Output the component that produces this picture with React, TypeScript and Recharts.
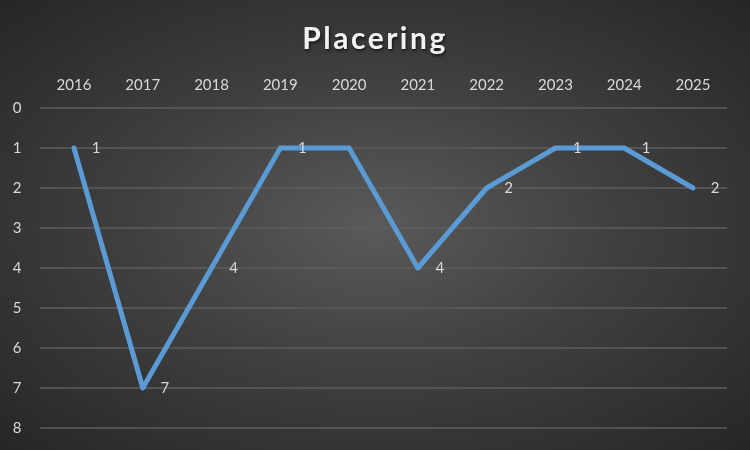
import React from "react";
import { LineChart, Line, XAxis, YAxis, CartesianGrid, LabelList } from "recharts";

const years = ["2016", "2017", "2018", "2019", "2020", "2021", "2022", "2023", "2024", "2025"];
const placering = [1, 7, 4, 1, 1, 4, 2, 1, 1, 2];
// data labels as shown (the 2020 label is not displayed in the reference)
const shownLabels = [1, 7, 4, 1, null, 4, 2, 1, 1, 2];
const yTicks = [0, 1, 2, 3, 4, 5, 6, 7, 8];

const data = years.map((y, i) => ({ year: y, value: placering[i], label: shownLabels[i] }));

const FONT = "Lato, 'Open Sans', sans-serif";
const TXT = "#d9d9d9";

const XTick = (props: any) => {
  const { x, y, payload } = props;
  return (
    <text x={x} y={y} dy={-10} textAnchor="middle" fill={TXT} fontSize={15} fontFamily={FONT}>
      {payload.value}
    </text>
  );
};

const YTick = (props: any) => {
  const { y, payload } = props;
  return (
    <text x={17} y={y} dy={5} textAnchor="middle" fill={TXT} fontSize={15} fontFamily={FONT}>
      {payload.value}
    </text>
  );
};

const DataLabel = (props: any) => {
  const { x, y, value } = props;
  if (value === null || value === undefined) return null;
  return (
    <text x={x + 22} y={y} dy={5} textAnchor="middle" fill={TXT} fontSize={15} fontFamily={FONT}>
      {value}
    </text>
  );
};

export default function App() {
  return (
    <div
      style={{
        position: "fixed",
        left: 0,
        top: 0,
        width: 750,
        height: 450,
        background: "radial-gradient(ellipse at center, #5a5a5a 0%, #404040 45%, #262626 100%)",
        overflow: "hidden",
      }}
    >
      <div
        style={{
          position: "absolute",
          left: 0,
          top: 19,
          width: 750,
          textAlign: "center",
          color: "#f2f2f2",
          fontFamily: FONT,
          fontWeight: 700,
          fontSize: 30,
          letterSpacing: 2.5,
          lineHeight: "36px",
          textShadow: "1px 2px 3px rgba(0,0,0,0.6)",
        }}
      >
        Placering
      </div>
      <div style={{ position: "absolute", left: 0, top: 0 }}>
        <LineChart width={750} height={450} data={data} margin={{ top: 78, right: 23, bottom: 22, left: 0 }}>
          <CartesianGrid vertical={false} stroke="#5e5e5e" strokeWidth={1.5} />
          <XAxis
            dataKey="year"
            orientation="top"
            axisLine={false}
            tickLine={false}
            height={30}
            tick={<XTick />}
            interval={0}
            padding={{ left: 34, right: 34 }}
          />
          <YAxis
            reversed
            domain={[0, 8]}
            ticks={yTicks}
            axisLine={false}
            tickLine={false}
            width={40}
            tick={<YTick />}
            interval={0}
          />
          <Line
            type="linear"
            dataKey="value"
            stroke="#5b9bd5"
            strokeWidth={5}
            strokeLinejoin="round"
            strokeLinecap="round"
            dot={false}
            activeDot={false}
            isAnimationActive={false}
          >
            <LabelList dataKey="label" content={<DataLabel />} />
          </Line>
        </LineChart>
      </div>
    </div>
  );
}
